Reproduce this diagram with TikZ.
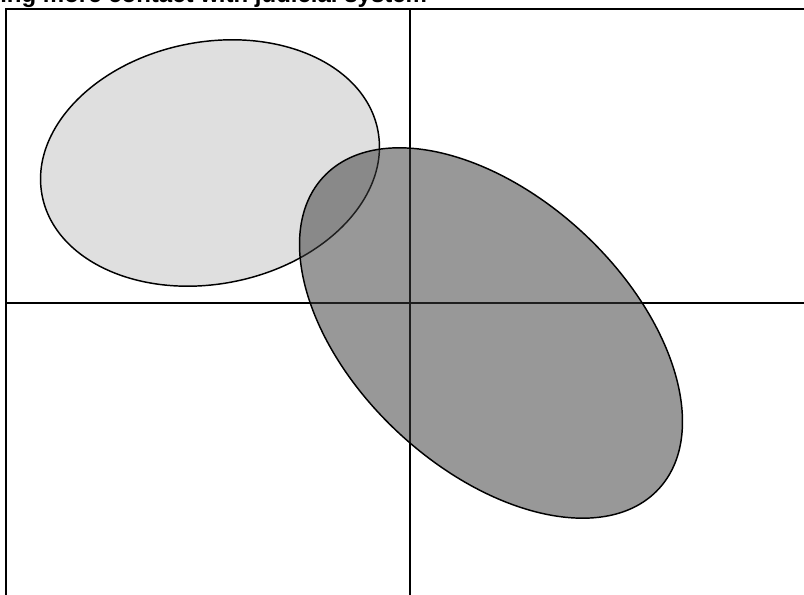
\documentclass[tikz,border=0pt]{standalone}
\usepackage{fontspec}
\setmainfont{Liberation Sans}
\usepackage{xcolor}
\definecolor{lightfill}{RGB}{223,223,223}
\definecolor{darkfill}{RGB}{59,59,59}
\usetikzlibrary{positioning}

\begin{document}
\begin{tikzpicture}[x=0.75pt,y=-0.75pt,
axis/.style={draw=black,line width=1.5pt},
blobline/.style={draw=black,line width=1.1pt},
lightblob/.style={blobline,fill=lightfill},
darkblob/.style={blobline,fill=darkfill,fill opacity=0.52},
caption/.style={font=\bfseries\fontsize{18}{20}\selectfont,inner sep=0pt,anchor=base west}]
\useasboundingbox (0,0) rectangle (804,595);
\clip (0,0) rectangle (804,595);
\fill[white] (0,0) rectangle (804,595);
\node[caption] (title) at (0,3) {ing more contact with judicial system};
% quadrant lines
\draw[axis] (6,595) -- (6,9) -- (804,9);
\draw[axis] (409.5,9) -- (409.5,595);
\draw[axis] (6,303.5) -- (804,303.5);
% groups
\draw[lightblob,rotate around={11:(210,163)}] (210,163) ellipse [x radius=171,y radius=121];
\draw[darkblob,rotate around={-43:(491,333)}] (491,333) ellipse [x radius=229,y radius=136];
\end{tikzpicture}
\end{document}
